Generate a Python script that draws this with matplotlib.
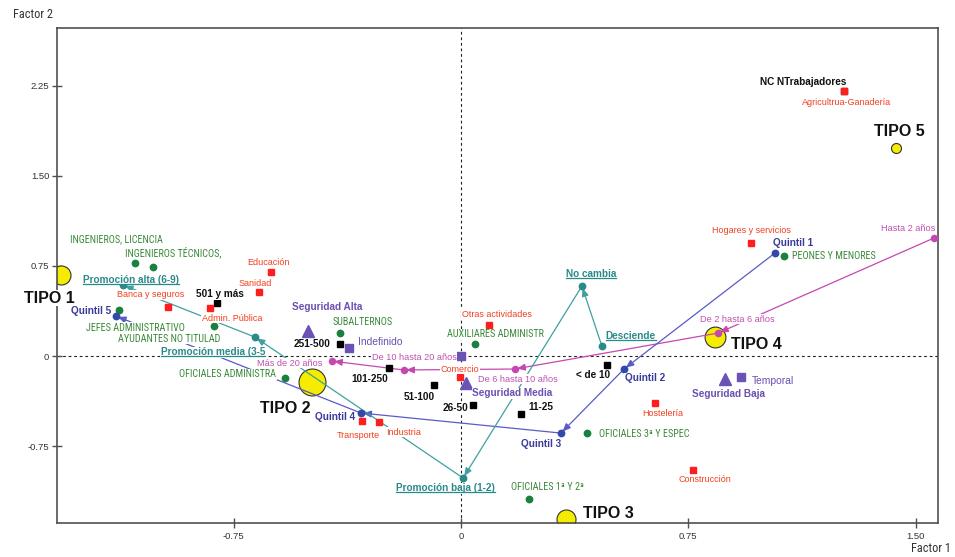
import matplotlib
matplotlib.use("Agg")
import matplotlib.pyplot as plt
from matplotlib import font_manager
from matplotlib.lines import Line2D
from matplotlib.transforms import IdentityTransform

plt.rcParams['font.family'] = ['Liberation Sans', 'DejaVu Sans']

# a narrow face for the occupation captions, when one is available
_installed = {f.name for f in font_manager.fontManager.ttflist}
NARROW = next((n for n in ["Liberation Sans Narrow", "Arial Narrow", "Roboto Condensed",
                           "DejaVu Sans Condensed", "Open Sans Condensed"] if n in _installed), None)

# ---------------- data: coordinates on the first two factors ----------------
sector_names = ["Agricultrua-Ganadería", "Hogares y servicios", "Educación", "Sanidad",
                "Banca y seguros", "Admin. Pública", "Otras actividades", "Comercio",
                "Transporte", "Industria", "Hostelería", "Construcción"]
sector_x = [1.264, 0.957, -0.627, -0.667, -0.967, -0.828, 0.092, -0.003, -0.327, -0.271, 0.640, 0.766]
sector_y = [2.205, 0.940, 0.699, 0.532, 0.408, 0.399, 0.258, -0.175, -0.541, -0.549, -0.391, -0.948]

size_names = ["NC NTrabajadores", "501 y más", "251-500", "101-250", "51-100", "26-50", "11-25", "< de 10"]
size_x = [1.264, -0.805, -0.399, -0.238, -0.089, 0.040, 0.198, 0.482]
size_y = [2.205, 0.441, 0.100, -0.100, -0.241, -0.408, -0.483, -0.075]

occup_names = ["INGENIEROS, LICENCIA", "INGENIEROS TÉCNICOS,", "JEFES ADMINISTRATIVO",
               "AYUDANTES NO TITULAD", "OFICIALES ADMINISTRA", "SUBALTERNOS",
               "AUXILIARES ADMINISTR", "PEONES Y MENORES", "OFICIALES 3ª Y ESPEC",
               "OFICIALES 1ª Y 2ª"]
occup_x = [-1.076, -1.017, -1.129, -0.815, -0.581, -0.399, 0.046, 1.066, 0.416, 0.224]
occup_y = [0.774, 0.740, 0.383, 0.250, -0.183, 0.191, 0.100, 0.832, -0.641, -1.190]

security_names = ["Seguridad Alta", "Seguridad Media", "Seguridad Baja"]
security_x = [-0.505, 0.017, 0.871]
security_y = [0.208, -0.225, -0.191]

contract_names = ["Indefinido", "", "Temporal"]
contract_x = [-0.370, 0.000, 0.924]
contract_y = [0.067, 0.000, -0.175]

tenure_names = ["Hasta 2 años", "De 2 hasta 6 años", "De 6 hasta 10 años",
                "De 10 hasta 20 años", "Más de 20 años"]
tenure_x = [1.561, 0.848, 0.178, -0.188, -0.426]
tenure_y = [0.982, 0.191, -0.108, -0.116, -0.042]

quintil_names = ["Quintil 1", "Quintil 2", "Quintil 3", "Quintil 4", "Quintil 5"]
quintil_x = [1.036, 0.538, 0.330, -0.330, -1.139]
quintil_y = [0.857, -0.108, -0.641, -0.474, 0.333]

promo_names = ["Desciende", "No cambia", "Promoción baja (1-2)",
               "Promoción media (3-5", "Promoción alta (6-9)"]
promo_x = [0.465, 0.399, 0.007, -0.680, -1.116]
promo_y = [0.083, 0.582, -1.015, 0.158, 0.591]

tipo_names = ["TIPO 1", "TIPO 2", "TIPO 3", "TIPO 4", "TIPO 5"]
tipo_x = [-1.320, -0.492, 0.347, 0.838, 1.436]
tipo_y = [0.674, -0.216, -1.356, 0.158, 1.730]

x_ticks = [-0.75, 0, 0.75, 1.50]
x_ticklabels = ["-0.75", "0", "0.75", "1.50"]
y_ticks = [-0.75, 0, 0.75, 1.50, 2.25]
y_ticklabels = ["-0.75", "0", "0.75", "1.50", "2.25"]

# ---------------- label placement (pixel offsets, right / down) ----------------
offsets = {
    "Agricultrua-Ganadería": (2, 12), "Hogares y servicios": (0, -13), "Educación": (-3, -10),
    "Sanidad": (-4, -9), "Banca y seguros": (-17, -12), "Admin. Pública": (22, 10),
    "Otras actividades": (8, -11), "Comercio": (0, -8), "Transporte": (-4, 14),
    "Industria": (25, 10), "Hostelería": (8, 10), "Construcción": (12, 10),
    "NC NTrabajadores": (-41, -9), "501 y más": (3, -9), "251-500": (-28, 0),
    "101-250": (-19, 11), "51-100": (-15, 12), "26-50": (-18, 3), "11-25": (20, -7),
    "< de 10": (-14, 10),
    "INGENIEROS, LICENCIA": (-18, -24), "INGENIEROS TÉCNICOS,": (20, -15),
    "JEFES ADMINISTRATIVO": (17, 18), "AYUDANTES NO TITULAD": (-45, 13),
    "OFICIALES ADMINISTRA": (-57, -4), "SUBALTERNOS": (23, -11),
    "AUXILIARES ADMINISTR": (21, -10), "PEONES Y MENORES": (50, 0),
    "OFICIALES 3ª Y ESPEC": (57, 1), "OFICIALES 1ª Y 2ª": (19, -12),
    "Seguridad Alta": (19, -24), "Seguridad Media": (46, 10), "Seguridad Baja": (4, 15),
    "Indefinido": (31, -6), "Temporal": (32, 4),
    "Hasta 2 años": (-26, -9), "De 2 hasta 6 años": (19, -14), "De 6 hasta 10 años": (3, 10),
    "De 10 hasta 20 años": (10, -12), "Más de 20 años": (-42, 2),
    "Quintil 1": (18, -10), "Quintil 2": (21, 9), "Quintil 3": (-20, 11),
    "Quintil 4": (-26, 4), "Quintil 5": (-25, -5),
    "Desciende": (29, -10), "No cambia": (9, -12), "Promoción baja (1-2)": (-18, 10),
    "Promoción media (3-5": (-42, 15), "Promoción alta (6-9)": (8, -5),
    "TIPO 1": (-12, 23), "TIPO 2": (-27, 26), "TIPO 3": (42, -6), "TIPO 4": (41, 7),
    "TIPO 5": (3, -17),
}
tipo_sizes = [13.7, 19.4, 13.7, 15.0, 7.2]

RED, RED_T = "#ff1e1e", "#f2401e"
GREEN, GREEN_T = "#1a8040", "#3a8a3a"
PURPLE, PURPLE_T = "#6b52b5", "#6a50b0"
MAGENTA, MAGENTA_T = "#c548b0", "#c050b0"
BLUE_L, BLUE, BLUE_T = "#5a5ac8", "#3448a8", "#3a3a9a"
TEAL_L, TEAL = "#40a0a0", "#2a8a8a"

fig = plt.figure(figsize=(9.55, 5.57), dpi=100)
ax = fig.add_axes([57 / 955, 1 - 523 / 557, (938 - 57) / 955, (523 - 28) / 557])
ax.set_xlim(-1.333, 1.574)
ax.set_ylim(-1.389, 2.729)

for s in ax.spines.values():
    s.set_color("#505050")
    s.set_linewidth(1.2)
ax.set_xticks(x_ticks, x_ticklabels)
ax.set_yticks(y_ticks, y_ticklabels)
ax.tick_params(direction="inout", length=7, width=1, color="#505050",
               labelsize=6.8, labelcolor="#333333")
ax.tick_params(axis="x", pad=3)
ax.tick_params(axis="y", pad=2)

ax.axhline(0, color="#222222", lw=0.8, ls=(0, (2.5, 2.5)), zorder=1)
ax.axvline(0, color="#222222", lw=0.8, ls=(0, (2.5, 2.5)), zorder=1)

title_font = dict(family=[NARROW, "Liberation Sans"], fontsize=8.8) if NARROW else dict(fontsize=7.8)
fig.text(33 / 955, 1 - 15 / 557, "Factor 2", ha="center", va="center", color="#333333", **title_font)
fig.text(931 / 955, 1 - 549 / 557, "Factor 1", ha="center", va="center", color="#333333", **title_font)


def label(name, x, y, color, size, weight="normal", family=None):
    if not name:
        return None
    dx, dy = offsets[name]
    kw = {"family": family} if family else {}
    return ax.annotate(name, (x, y), xytext=(dx, -dy), textcoords="offset pixels",
                       ha="center", va="center", fontsize=size, color=color,
                       fontweight=weight, zorder=6,
                       bbox=dict(boxstyle="square,pad=0.05", fc="white", ec="none"), **kw)


def path(xs, ys, color):
    for i in range(len(xs) - 1):
        ax.annotate("", xy=(xs[i + 1], ys[i + 1]), xytext=(xs[i], ys[i]),
                    arrowprops=dict(arrowstyle="-|>,head_length=0.6,head_width=0.25",
                                    color=color, lw=0.9, shrinkA=0, shrinkB=1.5,
                                    mutation_scale=8),
                    zorder=3)


# cluster centres
for x, y, ms in zip(tipo_x, tipo_y, tipo_sizes):
    ax.plot(x, y, "o", ms=ms, mfc="#f5ec00", mec="#333333", mew=0.8, zorder=2)
for n, x, y in zip(tipo_names, tipo_x, tipo_y):
    label(n, x, y, "#111111", 11.5, "bold")

# ordered categories joined by arrows
path(tenure_x, tenure_y, MAGENTA)
path(quintil_x, quintil_y, BLUE_L)
path(promo_x, promo_y, TEAL_L)

ax.plot(size_x, size_y, "s", ms=4.2, color="black", ls="none", zorder=4)
ax.plot(sector_x, sector_y, "s", ms=4.2, color=RED, ls="none", zorder=4)
ax.plot(occup_x, occup_y, "o", ms=4.6, color=GREEN, ls="none", zorder=4)
ax.plot(security_x, security_y, "^", ms=8, color=PURPLE, ls="none", zorder=4)
ax.plot(contract_x, contract_y, "s", ms=5.6, color=PURPLE, ls="none", zorder=4)
ax.plot(tenure_x, tenure_y, "o", ms=4.4, color=MAGENTA, ls="none", zorder=4)
ax.plot(quintil_x, quintil_y, "o", ms=4.6, color=BLUE, ls="none", zorder=4)
ax.plot(promo_x, promo_y, "o", ms=4.6, color=TEAL, ls="none", zorder=4)

for n, x, y in zip(sector_names, sector_x, sector_y):
    label(n, x, y, RED_T, 6.5)
for n, x, y in zip(size_names, size_x, size_y):
    label(n, x, y, "#111111", 7.2, "bold")
for n, x, y in zip(occup_names, occup_x, occup_y):
    if NARROW:
        label(n, x, y, GREEN_T, 7.3, family=[NARROW, "Liberation Sans"])
    else:
        label(n, x, y, GREEN_T, 5.9)
for n, x, y in zip(security_names, security_x, security_y):
    label(n, x, y, PURPLE_T, 7.2, "bold")
for n, x, y in zip(contract_names, contract_x, contract_y):
    label(n, x, y, PURPLE_T, 7.4)
for n, x, y in zip(tenure_names, tenure_x, tenure_y):
    label(n, x, y, MAGENTA_T, 6.6)
for n, x, y in zip(quintil_names, quintil_x, quintil_y):
    label(n, x, y, BLUE_T, 7.2, "bold")
promo_texts = [label(n, x, y, TEAL, 7.2, "bold") for n, x, y in zip(promo_names, promo_x, promo_y)]

# underline the promotion labels
fig.canvas.draw()
for t in promo_texts:
    bb = t.get_window_extent()
    yy = bb.y0 + 1.0
    fig.add_artist(Line2D([bb.x0, bb.x1], [yy, yy], transform=IdentityTransform(),
                          color=TEAL, lw=0.9, zorder=7))

fig.savefig("out.png", dpi=100)
